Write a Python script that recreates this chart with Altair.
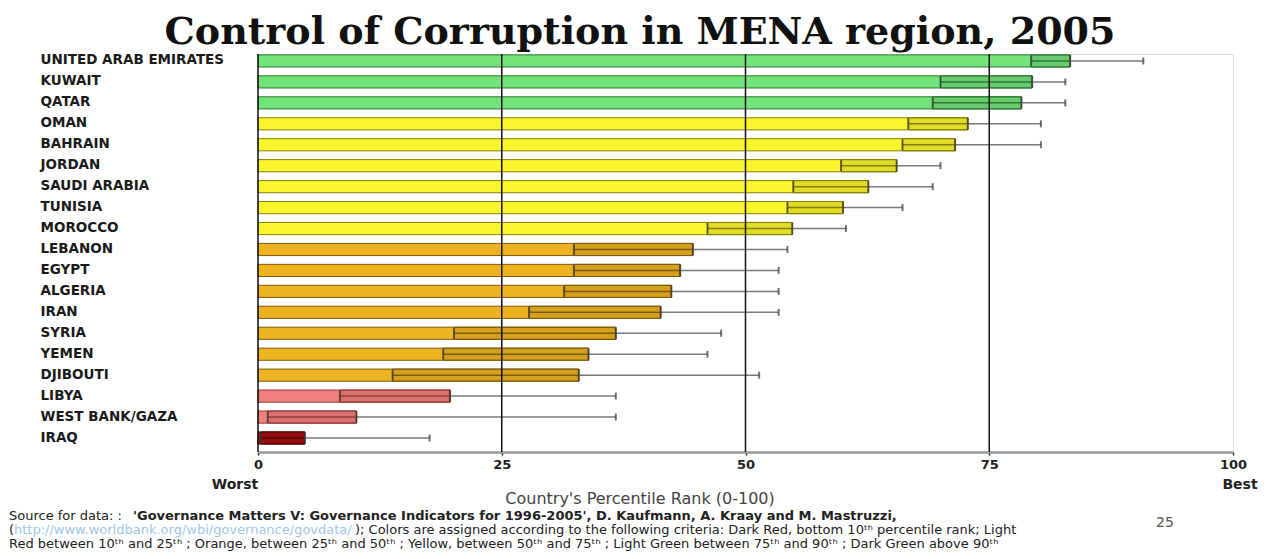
import altair as alt
import pandas as pd

countries = ["UNITED ARAB EMIRATES", "KUWAIT", "QATAR", "OMAN", "BAHRAIN", "JORDAN",
             "SAUDI ARABIA", "TUNISIA", "MOROCCO", "LEBANON", "EGYPT", "ALGERIA", "IRAN",
             "SYRIA", "YEMEN", "DJIBOUTI", "LIBYA", "WEST BANK/GAZA", "IRAQ"]
estimate = [83.3, 79.4, 78.3, 72.8, 71.5, 65.5, 62.6, 60.0, 54.8, 44.6, 43.3, 42.4, 41.3,
            36.7, 33.9, 32.9, 19.7, 10.1, 4.8]
lower = [79.3, 70.0, 69.2, 66.7, 66.1, 59.8, 54.9, 54.3, 46.1, 32.4, 32.4, 31.4, 27.8,
         20.1, 19.0, 13.8, 8.4, 1.0, 0.3]
upper = [90.8, 82.8, 82.8, 80.3, 80.3, 70.0, 69.2, 66.1, 60.3, 54.3, 53.4, 53.4, 53.4,
         47.5, 46.1, 51.4, 36.7, 36.7, 17.6]
category = ["Light Green"] * 3 + ["Yellow"] * 6 + ["Orange"] * 7 + ["Light Red"] * 2 + ["Dark Red"]
gridlines = [0, 25, 50, 75]
tick_values = [0, 25, 50, 75, 100]

cat_domain = ["Dark Red", "Light Red", "Orange", "Yellow", "Light Green"]
fill_range = ["#A50F0F", "#F2807C", "#EDB321", "#FAF52C", "#72E47A"]
edge_range = ["#5A0505", "#9A3A38", "#7E5D0A", "#858000", "#2F7A35"]

df = pd.DataFrame({"country": countries, "est": estimate, "lower": lower,
                   "upper": upper, "cat": category})
grid_df = pd.DataFrame({"g": gridlines})

yenc = alt.Y("country:N", sort=countries, title=None,
             scale=alt.Scale(paddingInner=0.42, paddingOuter=0.21, align=0.1),
             axis=alt.Axis(labelAlign="left", labelPadding=218, ticks=False, tickSize=0,
                           domain=False, labelFont="DejaVu Sans", labelFontWeight="bold",
                           labelFontSize=13.5, labelColor="#1a1a1a", labelOffset=-0.5,
                           labelLimit=260))
xscale = alt.Scale(domain=[0, 100], nice=False)
xaxis = alt.Axis(values=tick_values, grid=False, title=None, labelFont="DejaVu Sans",
                 labelFontWeight="bold", labelFontSize=13, labelColor="#222",
                 domainColor="#9a9a9a", domainWidth=2.5, tickColor="#222", tickSize=3,
                 tickWidth=1.5, labelPadding=3, labelFlush=False)

fill_scale = alt.Scale(domain=cat_domain, range=fill_range)
edge_scale = alt.Scale(domain=cat_domain, range=edge_range)

base = alt.Chart(df)

bars = base.mark_bar(strokeWidth=1).encode(
    y=yenc,
    x=alt.X("est:Q", scale=xscale, axis=xaxis),
    fill=alt.Fill("cat:N", scale=fill_scale, legend=None),
    stroke=alt.Stroke("cat:N", scale=edge_scale, legend=None),
)

inner = base.mark_bar(fill="black", fillOpacity=0.1, strokeWidth=1).encode(
    y=alt.Y("country:N", sort=countries),
    x=alt.X("lower:Q", scale=xscale),
    x2="est:Q",
    stroke=alt.Stroke("cat:N", scale=edge_scale, legend=None),
)

inner_line = base.mark_rule(strokeWidth=1.5).encode(
    y=alt.Y("country:N", sort=countries),
    x=alt.X("lower:Q", scale=xscale),
    x2="est:Q",
    color=alt.Color("cat:N", scale=edge_scale, legend=None),
)

whisker = base.mark_rule(color="#7a7a7a", strokeWidth=1.5).encode(
    y=alt.Y("country:N", sort=countries),
    x=alt.X("est:Q", scale=xscale),
    x2="upper:Q",
)

low_tick = base.mark_tick(thickness=2, size=11, color="#3a3a3a").encode(
    y=alt.Y("country:N", sort=countries),
    x=alt.X("lower:Q", scale=xscale),
)

est_tick = base.mark_tick(thickness=2, size=12, color="#333333").encode(
    y=alt.Y("country:N", sort=countries),
    x=alt.X("est:Q", scale=xscale),
)

up_tick = base.mark_tick(thickness=2, size=7, color="#333333").encode(
    y=alt.Y("country:N", sort=countries),
    x=alt.X("upper:Q", scale=xscale),
)

grid = alt.Chart(grid_df).mark_rule(color="#111111", strokeWidth=1.5).encode(
    x=alt.X("g:Q", scale=xscale)
)

one = alt.Data(values=[{}])


def txt(text, x, y, size=12, weight="normal", color="#222", align="left",
        font="DejaVu Sans", baseline="middle"):
    return alt.Chart(one).mark_text(text=text, fontSize=size, fontWeight=weight,
                                    color=color, align=align, baseline=baseline,
                                    font=font).encode(x=alt.value(x), y=alt.value(y))


annotations = [
    txt("Control of Corruption in MENA region, 2005", 382, -10, size=38, weight="bold",
        color="#111", align="center", font="DejaVu Serif", baseline="alphabetic"),
    txt("Worst", -23, 431, size=14, weight="bold", align="center"),
    txt("Best", 982, 431, size=14, weight="bold", align="center"),
    txt("Country's Percentile Rank (0-100)", 382, 445, size=16, color="#444",
        align="center"),
    txt("Source for data: :", -249, 462, size=13),
    txt("'Governance Matters V: Governance Indicators for 1996-2005', D. Kaufmann, "
        "A. Kraay and M. Mastruzzi,", -125, 462, size=13, weight="bold"),
    txt("(", -249, 476, size=13),
    txt("http://www.worldbank.org/wbi/governance/govdata/", -244, 476, size=13,
        color="#9fc6e8"),
    txt("); Colors are assigned according to the following criteria:  Dark Red, "
        "bottom 10ᵗʰ percentile rank; Light", 97, 476, size=13),
    txt("Red between 10ᵗʰ and 25ᵗʰ ; Orange, between 25ᵗʰ  and 50ᵗʰ ; Yellow, between "
        "50ᵗʰ  and 75ᵗʰ ; Light  Green between 75ᵗʰ and 90ᵗʰ  ; Dark Green above 90ᵗʰ",
        -249, 490, size=13),
    txt("25", 907, 469, size=14, color="#555", align="center"),
]

chart = alt.layer(bars, inner, inner_line, whisker, low_tick, est_tick, up_tick, grid,
                  *annotations).properties(
    width=975,
    height=398,
    autosize=alt.AutoSizeParams(type="none"),
    padding={"left": 250, "top": 46, "right": 42, "bottom": 99},
).configure_view(stroke="#b5b5b5", strokeWidth=1).configure(background="white")

chart.save("out.html", embed_options={"renderer": "svg", "actions": False})
